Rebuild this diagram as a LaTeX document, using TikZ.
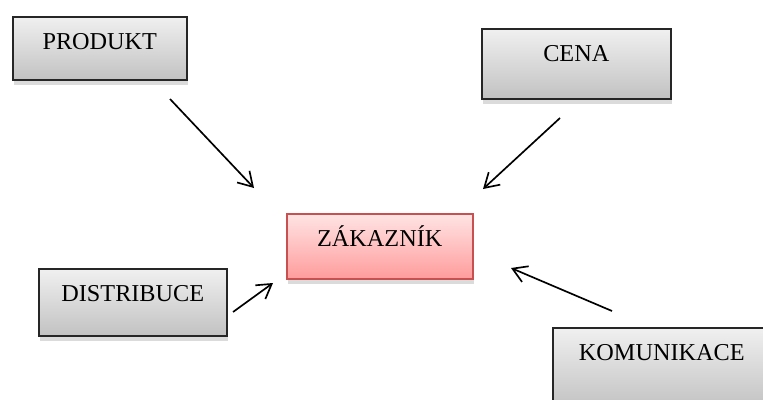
\documentclass[tikz,border=0pt]{standalone}
\usepackage{fontspec}
\setmainfont{Liberation Serif}
\usetikzlibrary{arrows.meta,shadows}
\definecolor{boxTop}{RGB}{240,240,240}
\definecolor{boxBottom}{RGB}{194,194,194}
\definecolor{custTop}{RGB}{255,228,228}
\definecolor{custBottom}{RGB}{255,156,156}
\definecolor{custEdge}{RGB}{200,80,80}

\begin{document}
\begin{tikzpicture}[x=0.02cm,y=-0.02cm,
      font=\fontsize{13.8}{16}\selectfont, >={Straight Barb[length=2.8mm,width=3.4mm]},
      mx/.style={rectangle,draw=black!85,line width=0.9pt,top color=boxTop,bottom color=boxBottom,
                 anchor=north west,align=center,inner sep=0pt,text height=18.6pt,
                 drop shadow={shadow xshift=0.6pt,shadow yshift=-2.8pt,fill=black!40,opacity=0.35}},
      cust/.style={mx,draw=custEdge,top color=custTop,bottom color=custBottom},
      ar/.style={->,black,line width=0.95pt}]

    \useasboundingbox (0,0) rectangle (763,399);
    \clip (0,0) rectangle (763,399);

    \node[mx,minimum width=3.48cm,text depth=17.3pt] (prod) at (12,16) {PRODUKT};
    \node[mx,minimum width=3.78cm,text depth=21.2pt] (cena) at (481,28) {CENA};
    \node[cust,minimum width=3.72cm,text depth=18.4pt] (zak) at (286,213) {ZÁKAZNÍK};
    \node[mx,minimum width=3.76cm,text depth=19.5pt] (dist) at (38,268) {DISTRIBUCE};
    \node[mx,minimum width=4.36cm,text depth=27.3pt] (kom) at (552,327) {KOMUNIKACE};

    \coordinate (prodA) at (170,99);  \coordinate (prodB) at (254,188);
    \coordinate (cenaA) at (560,118); \coordinate (cenaB) at (483,189);
    \coordinate (distA) at (233,312); \coordinate (distB) at (273,283);
    \coordinate (komA) at (612,311);  \coordinate (komB) at (511,268);

    \draw[ar] (prodA) -- (prodB);
    \draw[ar] (cenaA) -- (cenaB);
    \draw[ar] (distA) -- (distB);
    \draw[ar] (komA) -- (komB);
  \end{tikzpicture}
\end{document}
